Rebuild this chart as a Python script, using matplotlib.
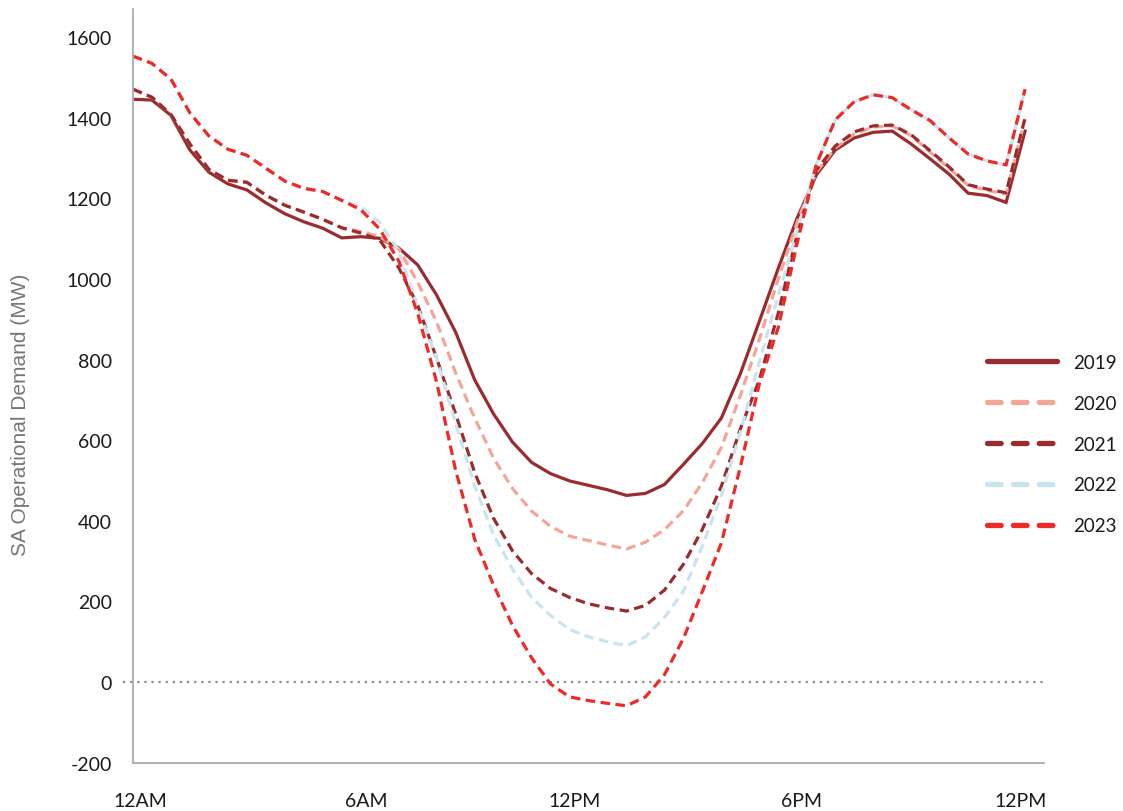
import numpy as np
import matplotlib
matplotlib.use("Agg")
import matplotlib.pyplot as plt
from matplotlib.lines import Line2D

# half hourly demand (MW), 12AM .. 11:30PM
hours = np.arange(0, 24, 0.5)

demand_2019 = [1446, 1444, 1406, 1320, 1265, 1236, 1221, 1189, 1162, 1142, 1126, 1102,
               1105, 1101, 1077, 1035, 960, 868, 750, 665, 595, 545, 517, 499,
               488, 477, 463, 468, 490, 540, 592, 655, 765, 895, 1027, 1152,
               1258, 1320, 1350, 1364, 1367, 1335, 1298, 1260, 1213, 1207, 1190, 1367]

demand_2020 = [1471, 1451, 1408, 1335, 1272, 1245, 1240, 1208, 1183, 1166, 1148, 1127,
               1118, 1105, 1075, 992, 893, 767, 655, 555, 480, 424, 386, 362,
               351, 340, 330, 347, 378, 425, 495, 582, 711, 850, 1000, 1142,
               1265, 1325, 1360, 1377, 1380, 1356, 1315, 1275, 1232, 1220, 1211, 1397]

demand_2021 = [1471, 1451, 1408, 1335, 1272, 1245, 1240, 1208, 1183, 1166, 1148, 1127,
               1114, 1097, 1028, 935, 803, 665, 520, 406, 325, 269, 232, 210,
               194, 184, 176, 190, 228, 292, 379, 486, 628, 750, 916, 1112,
               1270, 1330, 1365, 1380, 1382, 1358, 1318, 1278, 1234, 1223, 1214, 1400]

demand_2022 = [1553, 1535, 1496, 1412, 1355, 1322, 1307, 1275, 1243, 1225, 1217, 1195,
               1180, 1140, 1070, 930, 803, 642, 487, 365, 280, 210, 165, 130,
               112, 100, 90, 112, 160, 225, 338, 463, 620, 794, 960, 1120,
               1284, 1395, 1440, 1457, 1450, 1420, 1393, 1350, 1310, 1293, 1283, 1471]

demand_2023 = [1553, 1535, 1496, 1412, 1355, 1322, 1307, 1275, 1243, 1225, 1217, 1195,
               1172, 1124, 1045, 915, 744, 525, 355, 240, 140, 60, -5, -37,
               -46, -53, -59, -37, 18, 108, 225, 345, 534, 740, 880, 1090,
               1284, 1395, 1440, 1457, 1450, 1420, 1393, 1350, 1310, 1293, 1283, 1471]

years = ["2019", "2020", "2021", "2022", "2023"]
x_labels = ["12AM", "6AM", "12PM", "6PM", "12PM"]
y_ticks = [-200, 0, 200, 400, 600, 800, 1000, 1200, 1400, 1600]

colors = ["#9A2C2E", "#F4A595", "#9A2C2E", "#C8E4EF", "#EE2A25"]
styles = [None, (3.0, 1.7), (3.0, 1.7), (3.0, 1.7), (3.0, 1.7)]

plt.rcParams['font.family'] = ['Lato', 'DejaVu Sans']

fig = plt.figure(figsize=(11.23, 8.12), dpi=100)
ax = fig.add_axes([0.1184, 0.0596, 0.8113, 0.9281])

series = [demand_2019, demand_2020, demand_2021, demand_2022, demand_2023]
for vals, c, ds, yr in zip(series, colors, styles, years):
    if ds is None:
        ax.plot(hours, vals, color=c, lw=2.3, label=yr, solid_joinstyle='miter')
    else:
        ax.plot(hours, vals, color=c, lw=2.3, label=yr, dashes=ds, dash_capstyle='butt')

# zero reference line
ax.axhline(0, xmin=-0.011, xmax=1.0, color="#8c8c8c", lw=1.6, ls=(0, (1, 2.2)),
           clip_on=False, zorder=0)

ax.set_xlim(0, 24)
ax.set_ylim(-200, 1670)
ax.set_yticks(y_ticks)
ax.set_yticklabels([str(v) for v in y_ticks])
# label positions as in the source chart
ax.set_xticks([0.2, 6.15, 11.64, 17.62, 23.37])
ax.set_xticklabels(x_labels)
ax.tick_params(axis='both', length=0, labelsize=14, colors="#1a1a1a")
ax.tick_params(axis='y', pad=15)
ax.tick_params(axis='x', pad=21)

for s in ['top', 'right']:
    ax.spines[s].set_visible(False)
for s in ['left', 'bottom']:
    ax.spines[s].set_color("#ababab")
    ax.spines[s].set_linewidth(1.3)

fig.text(21 / 1123, 1 - 415 / 812, "SA Operational Demand (MW)", rotation=90,
         ha='center', va='center', fontsize=15, color="#767676",
         family=['Liberation Sans', 'DejaVu Sans'])

# legend with thicker handles
handles = []
for c, ds in zip(colors, styles):
    if ds is None:
        handles.append(Line2D([], [], color=c, lw=3.8, solid_capstyle='round'))
    else:
        handles.append(Line2D([], [], color=c, lw=3.8, dashes=(2.6, 2.3),
                              dash_capstyle='round'))
leg = ax.legend(handles, years, loc='upper left', bbox_to_anchor=(987 / 1123, 1 - 355 / 812),
                bbox_transform=fig.transFigure, frameon=False, fontsize=13.5,
                handlelength=3.75, handletextpad=0.85, labelspacing=1.27,
                borderpad=0, borderaxespad=0)
for t in leg.get_texts():
    t.set_color("#1a1a1a")

fig.savefig("out.png", dpi=100)
